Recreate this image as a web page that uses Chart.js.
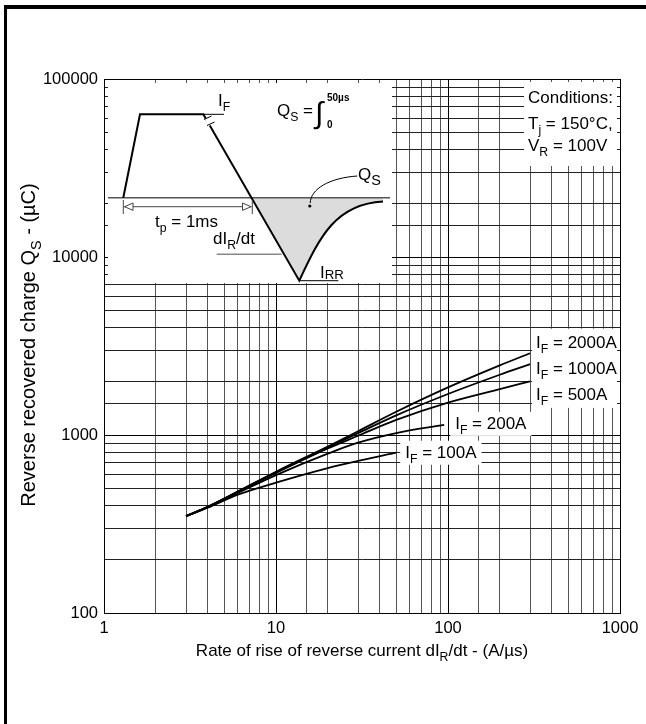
<!DOCTYPE html>
<html>
<head>
<meta charset="utf-8">
<script src="https://cdn.jsdelivr.net/npm/chart.js@4.4.1/dist/chart.umd.min.js"></script>
<style>
  html, body { margin: 0; padding: 0; background: #fff; }
  #wrap { width: 646px; height: 724px; }
</style>
</head>
<body>
<div id="wrap"><canvas id="qsChart" width="646" height="724"></canvas></div>
<script>
// Reverse recovered charge Qs against dIR/dt, one curve per forward current
const seriesNames = ['2000A', '1000A', '500A', '200A', '100A'];

const rate2000 = [3, 4, 6, 10, 20, 30, 50, 100, 200, 300];
const charge2000 = [350, 395, 482, 622, 862, 1050, 1350, 1850, 2460, 2880];
const rate1000 = [3, 4, 6, 10, 20, 30, 50, 100, 200, 300];
const charge1000 = [350, 395, 480, 618, 852, 1025, 1290, 1700, 2180, 2500];
const rate500 = [3, 4, 6, 10, 20, 30, 50, 100, 200, 300];
const charge500 = [350, 394, 478, 612, 840, 990, 1215, 1520, 1810, 2000];
const rate200 = [3, 4, 6, 10, 20, 30, 50, 95];
const charge200 = [350, 392, 472, 595, 785, 905, 1025, 1140];
const rate100 = [3, 4, 6, 10, 20, 30, 50];
const charge100 = [350, 390, 462, 540, 652, 715, 795];

const xTickLabels = [1, 10, 100, 1000];
const yTickLabels = [100, 1000, 10000, 100000];

const FONT = '"Liberation Sans", Arial, Helvetica, sans-serif';
const font = (size, weight) => (weight || 'normal') + ' ' + size + 'px ' + FONT;

// text runs like [['I'], ['F', 'sub'], [' = 100A']], left aligned on baseline y
function runsWidth(ctx, runs, size, subScale) {
    let w = 0;
    runs.forEach(([txt, kind]) => {
        ctx.font = font(kind === 'sub' ? size * (subScale || 0.72) : size);
        w += ctx.measureText(txt).width;
    });
    return w;
}
function drawRuns(ctx, runs, x, y, size, subScale, subDrop) {
    let cx = x;
    const drop = subDrop === undefined ? 0.3 : subDrop;
    ctx.textAlign = 'left';
    ctx.textBaseline = 'alphabetic';
    runs.forEach(([txt, kind]) => {
        const sub = kind === 'sub';
        ctx.font = font(sub ? size * (subScale || 0.72) : size);
        ctx.fillText(txt, cx, y + (sub ? size * drop : 0));
        cx += ctx.measureText(txt).width;
    });
}

const allSeries = [
    [rate2000, charge2000], [rate1000, charge1000], [rate500, charge500],
    [rate200, charge200], [rate100, charge100]
];

// label offset from the end of each curve (px)
const labelOffsets = [[6, -11], [6, 4], [6, 13], [11, -1], [9, 0]];

const sketchPlugin = {
    id: 'sketch',
    beforeDraw(chart) {
        const ctx = chart.ctx;
        ctx.save();
        ctx.fillStyle = '#fff';
        ctx.fillRect(0, 0, chart.width, chart.height);
        ctx.restore();
    },
    beforeDatasetsDraw(chart) {
        const { ctx, chartArea: a } = chart;
        const L = a.left, T = a.top, R = a.right;
        ctx.save();

        // ---- inset diagram (white panel over the grid) ----
        ctx.fillStyle = '#fff';
        ctx.fillRect(L + 4, T + 4, 284, 200);

        const P = (px, py) => [L + px, T + py];
        // shaded Qs area
        ctx.beginPath();
        ctx.moveTo(...P(147.4, 118.7));
        ctx.lineTo(...P(195.3, 201.7));
        ctx.bezierCurveTo(...P(216, 157), ...P(232, 125), ...P(279, 122.5));
        ctx.lineTo(...P(279, 118.7));
        ctx.closePath();
        ctx.fillStyle = '#dcdcdc';
        ctx.fill();

        // zero line
        ctx.strokeStyle = '#555';
        ctx.lineWidth = 1.4;
        ctx.beginPath();
        ctx.moveTo(...P(4, 118.7));
        ctx.lineTo(...P(286, 118.7));
        ctx.stroke();

        // current waveform
        ctx.strokeStyle = '#000';
        ctx.lineWidth = 2;
        ctx.beginPath();
        ctx.moveTo(...P(19.3, 118.7));
        ctx.lineTo(...P(36, 35.3));
        ctx.lineTo(...P(99.3, 35.3));
        ctx.lineTo(...P(195.3, 201.7));
        ctx.bezierCurveTo(...P(216, 157), ...P(232, 125), ...P(279, 122.5));
        ctx.stroke();

        // break marks on the falling edge
        ctx.fillStyle = '#fff';
        ctx.beginPath();
        ctx.moveTo(...P(101, 40));
        ctx.lineTo(...P(107, 36.5));
        ctx.lineTo(...P(110, 44));
        ctx.lineTo(...P(104, 47.5));
        ctx.closePath();
        ctx.fill();
        ctx.lineWidth = 1;
        ctx.beginPath();
        ctx.moveTo(...P(100, 40.5)); ctx.lineTo(...P(107.5, 37));
        ctx.moveTo(...P(103, 46.5)); ctx.lineTo(...P(110.5, 43));
        ctx.stroke();

        // IF and IRR level marks
        ctx.beginPath();
        ctx.moveTo(...P(99.3, 35.3)); ctx.lineTo(...P(120, 35.3));
        ctx.moveTo(...P(195.3, 201.7)); ctx.lineTo(...P(234.3, 201.7));
        ctx.stroke();

        // dIR/dt leader
        ctx.strokeStyle = '#888';
        ctx.lineWidth = 1.5;
        ctx.beginPath();
        ctx.moveTo(...P(112.7, 175.3)); ctx.lineTo(...P(177.7, 175.3));
        ctx.stroke();

        // tp dimension arrow
        ctx.strokeStyle = '#444';
        ctx.lineWidth = 1;
        ctx.beginPath();
        ctx.moveTo(...P(19.3, 121)); ctx.lineTo(...P(19.3, 135));
        ctx.moveTo(...P(148.3, 121)); ctx.lineTo(...P(148.3, 135));
        ctx.moveTo(...P(20, 127.7)); ctx.lineTo(...P(147.6, 127.7));
        ctx.stroke();
        ctx.fillStyle = '#fff';
        ctx.beginPath();
        ctx.moveTo(...P(20.5, 127.7)); ctx.lineTo(...P(29, 124)); ctx.lineTo(...P(29, 131.4)); ctx.closePath();
        ctx.fill(); ctx.stroke();
        ctx.beginPath();
        ctx.moveTo(...P(147, 127.7)); ctx.lineTo(...P(138.5, 124)); ctx.lineTo(...P(138.5, 131.4)); ctx.closePath();
        ctx.fill(); ctx.stroke();

        // Qs leader with dot
        ctx.strokeStyle = '#000';
        ctx.beginPath();
        ctx.moveTo(...P(253.3, 97));
        ctx.bezierCurveTo(...P(225, 99), ...P(206.7, 110), ...P(206.2, 124));
        ctx.stroke();
        ctx.fillStyle = '#000';
        ctx.beginPath();
        ctx.arc(...P(205.8, 127), 1.6, 0, Math.PI * 2);
        ctx.fill();

        // inset texts
        drawRuns(ctx, [['I'], ['F', 'sub']], L + 114, T + 27, 17);
        drawRuns(ctx, [['t'], ['p', 'sub'], [' = 1ms']], L + 51, T + 148, 17);
        drawRuns(ctx, [['dI'], ['R', 'sub'], ['/dt']], L + 109, T + 164.5, 17);
        drawRuns(ctx, [['Q'], ['S', 'sub']], L + 254, T + 101, 17, 0.85);
        drawRuns(ctx, [['I'], ['R', 'sub'], ['R', 'sub']], L + 216, T + 199, 17, 0.78, 0.08);
        drawRuns(ctx, [['Q'], ['S', 'sub'], [' = ']], L + 173, T + 37, 17);
        ctx.font = font(30);
        ctx.fillText('\u222B', L + 211, T + 44);
        ctx.font = font(10, 'bold');
        ctx.fillText('50\u00B5s', L + 223, T + 22);
        ctx.fillText('0', L + 223, T + 49);

        // ---- conditions panel ----
        ctx.fillStyle = '#fff';
        ctx.fillRect(R - 96, T + 3, 93, 84);
        ctx.fillStyle = '#000';
        drawRuns(ctx, [['Conditions:']], R - 92, T + 23.5, 17);
        drawRuns(ctx, [['T'], ['j', 'sub'], [' = 150\u00B0C,']], R - 92, T + 50, 17);
        drawRuns(ctx, [['V'], ['R', 'sub'], [' = 100V']], R - 92, T + 71.7, 17);

        // ---- curve labels ----
        const xs = chart.scales.x, ys = chart.scales.y;
        allSeries.forEach(([rx, qy], i) => {
            const ex = xs.getPixelForValue(rx[rx.length - 1]);
            const ey = ys.getPixelForValue(qy[qy.length - 1]);
            const tx = ex + labelOffsets[i][0];
            const cy = ey + labelOffsets[i][1];
            const runs = [['I'], ['F', 'sub'], [' = ' + seriesNames[i]]];
            const w = runsWidth(ctx, runs, 17);
            ctx.fillStyle = '#fff';
            if (i < 3) {
                ctx.fillRect(tx - 4, cy - 13.5, R - 3 - (tx - 4), 27);
            } else {
                ctx.fillRect(tx - 5, cy - 12, w + 10, 24);
            }
            ctx.fillStyle = '#000';
            drawRuns(ctx, runs, tx, cy + 5.5, 17);
        });
        ctx.restore();
    },
    afterDraw(chart) {
        const { ctx, chartArea: a } = chart;
        ctx.save();
        ctx.fillStyle = '#000';
        // outer page frame
        ctx.fillRect(4, 5, chart.width - 4, 4);
        ctx.fillRect(4, 5, 3, chart.height - 5);

        // axis titles with subscripts
        const xRuns = [['Rate of rise of reverse current dI'], ['R', 'sub'], ['/dt - (A/\u00B5s)']];
        const xw = runsWidth(ctx, xRuns, 17);
        drawRuns(ctx, xRuns, (a.left + a.right) / 2 - xw / 2, a.bottom + 43, 17);

        const yRuns = [['Reverse recovered charge Q'], ['S', 'sub'], [' - (\u00B5C)']];
        const yw = runsWidth(ctx, yRuns, 20);
        ctx.translate(35, 345);
        ctx.rotate(-Math.PI / 2);
        drawRuns(ctx, yRuns, -yw / 2, 0, 20);
        ctx.restore();
    }
};

const isDecade = v => Math.abs(Math.log10(v) - Math.round(Math.log10(v))) < 1e-9;

const datasets = allSeries.map(([rx, qy], i) => ({
    label: 'IF = ' + seriesNames[i],
    data: rx.map((v, k) => ({ x: v, y: qy[k] })),
    borderColor: '#000',
    borderWidth: 1.8,
    pointRadius: 0,
    fill: false,
    cubicInterpolationMode: 'monotone'
}));

const ctx = document.getElementById('qsChart').getContext('2d');
const qsChart = new Chart(ctx, {
    type: 'line',
    data: { datasets: datasets },
    options: {
        responsive: false,
        animation: false,
        layout: { padding: { left: 0, top: 79, right: 26, bottom: 0 } },
        plugins: { legend: { display: false }, tooltip: { enabled: false } },
        scales: {
            x: {
                type: 'logarithmic',
                min: 1,
                max: 1000,
                grid: {
                    color: c => (c.tick && isDecade(c.tick.value)) ? '#000' : '#555',
                    lineWidth: 1,
                    drawTicks: false
                },
                border: { color: '#000', width: 1 },
                ticks: {
                    autoSkip: false,
                    maxRotation: 0,
                    color: '#000',
                    padding: 6,
                    font: { family: FONT, size: 16.5 },
                    callback: v => xTickLabels.includes(v) ? String(v) : ''
                },
                afterFit: s => { s.height = 111; }
            },
            y: {
                type: 'logarithmic',
                min: 100,
                max: 100000,
                grid: {
                    color: c => (c.tick && isDecade(c.tick.value)) ? '#000' : '#222',
                    lineWidth: 1,
                    drawTicks: false
                },
                border: { color: '#000', width: 1 },
                ticks: {
                    autoSkip: false,
                    color: '#000',
                    padding: 6,
                    font: { family: FONT, size: 16.5 },
                    callback: v => yTickLabels.includes(v) ? String(v) : ''
                },
                afterFit: s => { s.width = 104; }
            }
        }
    },
    plugins: [sketchPlugin]
});
</script>
</body>
</html>
